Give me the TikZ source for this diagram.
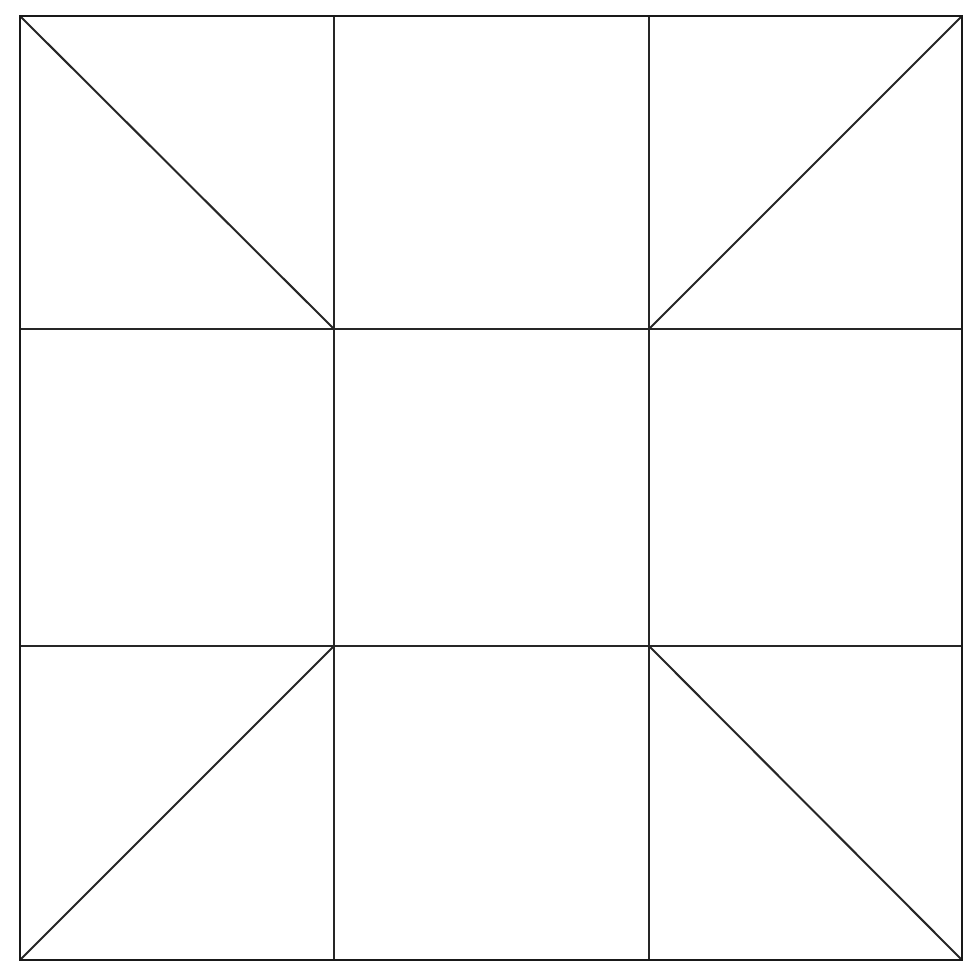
\documentclass[tikz,border=0pt]{standalone}
\begin{document}
\begin{tikzpicture}[x=0.5pt,y=-0.5pt,gridline/.style={draw=black!85,line width=1pt},border/.style={draw=black!90,line width=1.2pt}]
\useasboundingbox (0,0) rectangle (980,980);
\fill[white] (0,0) rectangle (980,980);
\coordinate (TL) at (20,16);
\coordinate (TR) at (962,16);
\coordinate (BL) at (20,960);
\coordinate (BR) at (962,960);
\coordinate (A) at (334,329);
\coordinate (B) at (649,329);
\coordinate (C) at (334,646);
\coordinate (D) at (649,646);
\draw[gridline] (334,16) -- (334,960);
\draw[gridline] (649,16) -- (649,960);
\draw[gridline] (20,329) -- (962,329);
\draw[gridline] (20,646) -- (962,646);
\draw[gridline] (TL) -- (A);
\draw[gridline] (TR) -- (B);
\draw[gridline] (BL) -- (C);
\draw[gridline] (BR) -- (D);
\draw[border] (TL) rectangle (BR);
\end{tikzpicture}
\end{document}
